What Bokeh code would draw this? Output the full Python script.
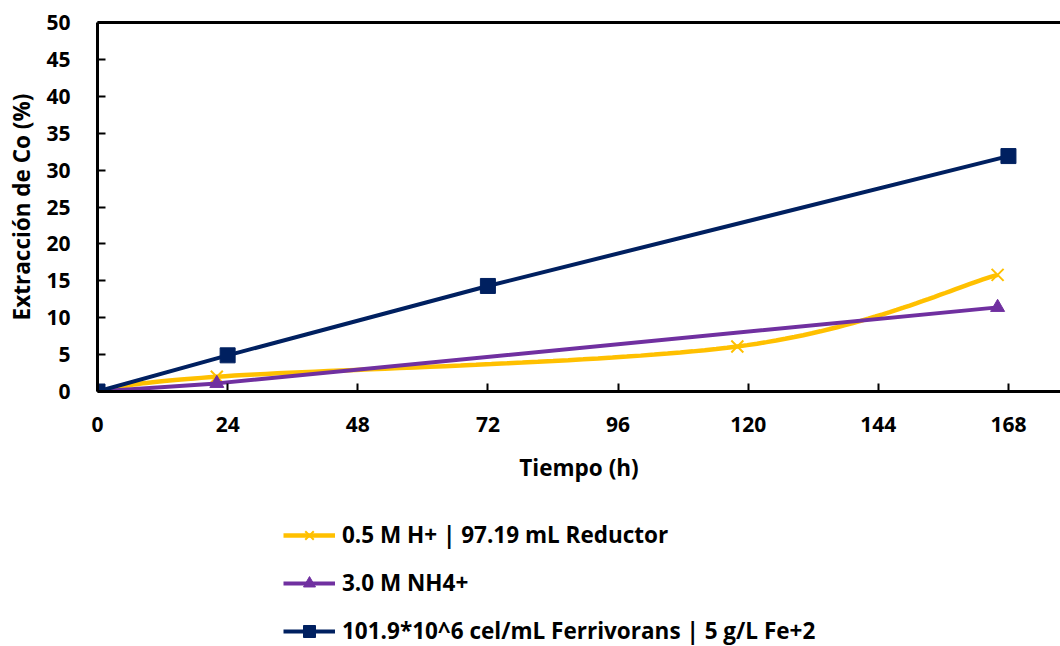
import numpy as np
from bokeh.plotting import figure
from bokeh.layouts import column
from bokeh.models import (Range1d, FixedTicker, LinearAxis, Legend, LegendItem)
from bokeh.embed import file_html
from bokeh.resources import INLINE

# Cobalt extraction (%) versus leaching time (h)
acid_t = [0, 22, 118, 166]
acid_y = [0, 2.0, 6.1, 15.8]

ammonium_t = [0, 22, 166]
ammonium_y = [0, 1.1, 11.4]

bio_t = [0, 24, 72, 168]
bio_y = [0, 4.9, 14.3, 31.9]

series_labels = [
    "0.5 M H+ | 97.19 mL Reductor",
    "3.0 M NH4+",
    "101.9*10^6 cel/mL Ferrivorans | 5 g/L Fe+2",
]
x_ticks = [0, 24, 48, 72, 96, 120, 144, 168]
y_ticks = list(range(0, 55, 5))

FONT = "Open Sans"
YELLOW = "#FFC000"
PURPLE = "#7030A0"
NAVY = "#002060"

styles = [
    dict(color=YELLOW, line_width=4.5, marker="x", size=17),
    dict(color=PURPLE, line_width=4, marker="triangle", size=14),
    dict(color=NAVY, line_width=4, marker="square", size=15),
]


def smooth(xs, ys, n=40):
    """Catmull-Rom style Bezier smoothing through the given points."""
    pts = np.column_stack([xs, ys]).astype(float)
    out = [pts[0]]
    for i in range(len(pts) - 1):
        p0 = pts[i - 1] if i > 0 else pts[i]
        p1 = pts[i]
        p2 = pts[i + 1]
        p3 = pts[i + 2] if i + 2 < len(pts) else pts[i + 1]
        c1 = p1 + (p2 - p0) / 6.0
        c2 = p2 - (p3 - p1) / 6.0
        t = np.linspace(0, 1, n)[1:, None]
        seg = ((1 - t) ** 3) * p1 + 3 * ((1 - t) ** 2) * t * c1 + 3 * (1 - t) * t ** 2 * c2 + t ** 3 * p2
        out.extend(seg)
    out = np.array(out)
    return out[:, 0], out[:, 1]


def draw_series(fig, xs, ys, st, line_xy=None):
    lx, ly = line_xy if line_xy is not None else (xs, ys)
    rl = fig.line(lx, ly, line_color=st["color"], line_width=st["line_width"])
    if st["marker"] == "x":
        rm = fig.scatter(xs, ys, marker="x", size=st["size"], line_color=st["color"], line_width=2)
    else:
        rm = fig.scatter(xs, ys, marker=st["marker"], size=st["size"],
                         fill_color=st["color"], line_color=st["color"])
    return [rl, rm]


series = [(acid_t, acid_y), (ammonium_t, ammonium_y), (bio_t, bio_y)]

# ---- main chart ----
p = figure(width=1060, height=500, output_backend="svg", toolbar_location=None,
           x_range=Range1d(0, 177.6), y_range=Range1d(0, 50),
           min_border_left=97, min_border_right=0, min_border_top=22,
           min_border_bottom=109, background_fill_color="white",
           border_fill_color="white")
p.outline_line_color = None
p.grid.visible = False

draw_series(p, acid_t, acid_y, styles[0], line_xy=smooth(acid_t, acid_y))
draw_series(p, ammonium_t, ammonium_y, styles[1])
draw_series(p, bio_t, bio_y, styles[2])

for ax in (p.xaxis[0], p.yaxis[0]):
    ax.axis_line_width = 3
    ax.axis_line_color = "black"
    ax.major_tick_line_width = 2
    ax.major_tick_line_color = "black"
    ax.major_tick_in = 8
    ax.major_tick_out = 0
    ax.minor_tick_line_color = None
    ax.major_label_text_font = FONT
    ax.major_label_text_font_style = "bold"
    ax.major_label_text_font_size = "21px"
    ax.major_label_text_color = "black"
    ax.axis_label_text_font = FONT
    ax.axis_label_text_font_style = "bold"
    ax.axis_label_text_font_size = "22.5px"
    ax.axis_label_text_color = "black"

p.xaxis.ticker = FixedTicker(ticks=x_ticks)
p.yaxis.ticker = FixedTicker(ticks=y_ticks)
p.xaxis.axis_label = "Tiempo (h)"
p.yaxis.axis_label = "Extracción de Co (%)"
p.xaxis.major_label_standoff = 25
p.xaxis.axis_label_standoff = 17
p.yaxis.major_label_standoff = 27
p.yaxis.axis_label_standoff = 6

top = LinearAxis(ticker=FixedTicker(ticks=[]), axis_line_width=3,
                 axis_line_color="black", major_label_text_font_size="0px",
                 major_tick_line_color=None, minor_tick_line_color=None)
p.add_layout(top, "above")

# ---- legend strip under the chart ----
# The same series are added here, kept out of the visible range, so that the
# legend can draw their line and marker samples.
leg = figure(width=1060, height=146, output_backend="svg", toolbar_location=None,
             x_range=Range1d(-1000, -999), y_range=Range1d(-1000, -999),
             min_border=0, background_fill_color="white", border_fill_color="white")
leg.outline_line_color = None
leg.axis.visible = False
leg.grid.visible = False

items = []
for label, st, (xs, ys) in zip(series_labels, styles, series):
    rs = draw_series(leg, xs, ys, st)
    items.append(LegendItem(label=label, renderers=rs))

legend = Legend(items=items, location=(186, 0), orientation="vertical",
                glyph_width=52, glyph_height=30, label_height=20, label_standoff=7,
                spacing=17, padding=0, margin=0, border_line_color=None,
                background_fill_alpha=0, label_text_font=FONT,
                label_text_font_style="bold", label_text_font_size="22.5px",
                label_text_color="black")
leg.add_layout(legend, "center")

layout = column(p, leg, spacing=0)
open("out.html", "w").write(file_html(layout, INLINE))
